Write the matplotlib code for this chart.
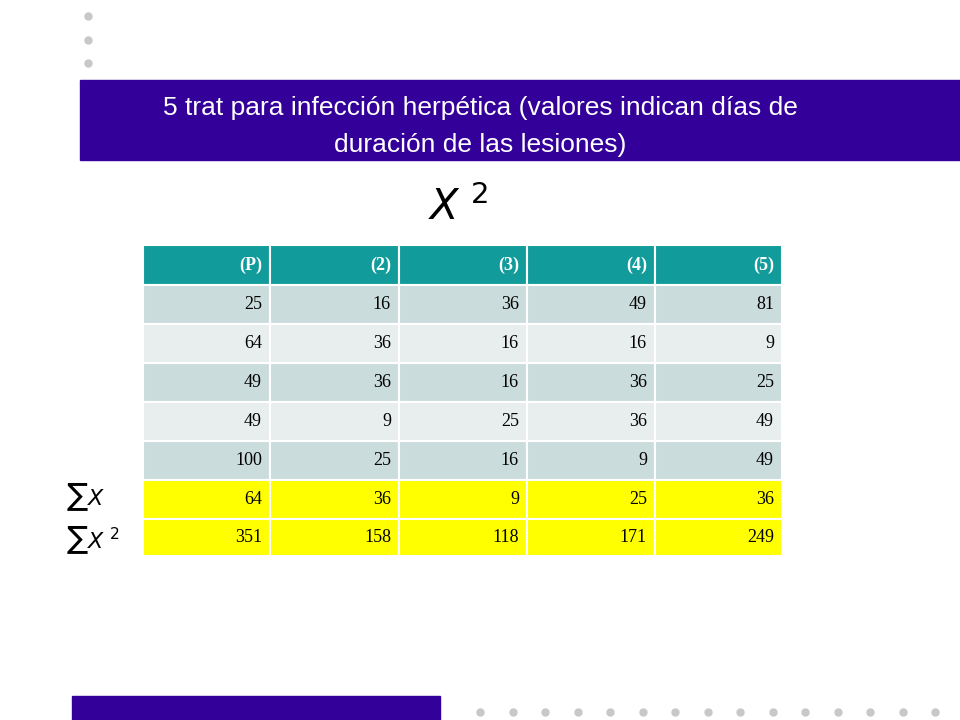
import matplotlib
matplotlib.use("Agg")
import matplotlib.pyplot as plt
from matplotlib.patches import Rectangle

headers = ["(P)", "(2)", "(3)", "(4)", "(5)"]
rows = [
    [25, 16, 36, 49, 81],
    [64, 36, 16, 16, 9],
    [49, 36, 16, 36, 25],
    [49, 9, 25, 36, 49],
    [100, 25, 16, 9, 49],
]
sum_x = [64, 36, 9, 25, 36]
sum_x2 = [351, 158, 118, 171, 249]
title_lines = ["5 trat para infección herpética (valores indican días de",
               "duración de las lesiones)"]

purple = "#330099"
fig = plt.figure(figsize=(9.6, 7.2), dpi=100)
ax = fig.add_axes([0, 0, 1, 1])
ax.set_xlim(0, 960); ax.set_ylim(720, 0); ax.axis("off")

for y in [16, 40, 63]:
    ax.plot(88, y, "o", color="#c8c8c8", ms=5)
ax.add_patch(Rectangle((80, 80), 880, 80, color=purple))
ax.text(480, 108, title_lines[0], color="white", fontsize=19, ha="center", va="center", family="Liberation Sans")
ax.text(480, 145, title_lines[1], color="white", fontsize=19, ha="center", va="center", family="Liberation Sans")
ax.text(458, 208, r"$X^{\ 2}$", fontsize=30, ha="center", va="center", family="serif")

xs = [143, 270, 399, 527, 655, 782]
ys = [245, 285, 324, 363, 402, 441, 480, 519, 556]
all_rows = [headers] + rows + [sum_x, sum_x2]
for r, vals in enumerate(all_rows):
    if r == 0: fc = "#129b9b"
    elif r >= 6: fc = "#ffff00"
    elif r % 2 == 1: fc = "#cbdcdc"
    else: fc = "#e8eeee"
    for c, v in enumerate(vals):
        ax.add_patch(Rectangle((xs[c], ys[r]), xs[c+1]-xs[c], ys[r+1]-ys[r], facecolor=fc, edgecolor="white", lw=1.5))
        ax.text(xs[c+1]-8, (ys[r]+ys[r+1])/2, str(v), ha="right", va="center",
                fontsize=13, family="Liberation Serif",
                color="white" if r == 0 else "black", fontweight="bold" if r == 0 else "normal")

ax.text(66, 497, r"$\sum X$", fontsize=16, va="center", family="serif")
ax.text(66, 540, r"$\sum X^{\ 2}$", fontsize=16, va="center", family="serif")

ax.add_patch(Rectangle((72, 696), 368, 24, color=purple))
for i in range(15):
    ax.plot(480 + i*32.5, 712, "o", color="#c8c8c8", ms=5)

fig.savefig("out.png", dpi=100)
